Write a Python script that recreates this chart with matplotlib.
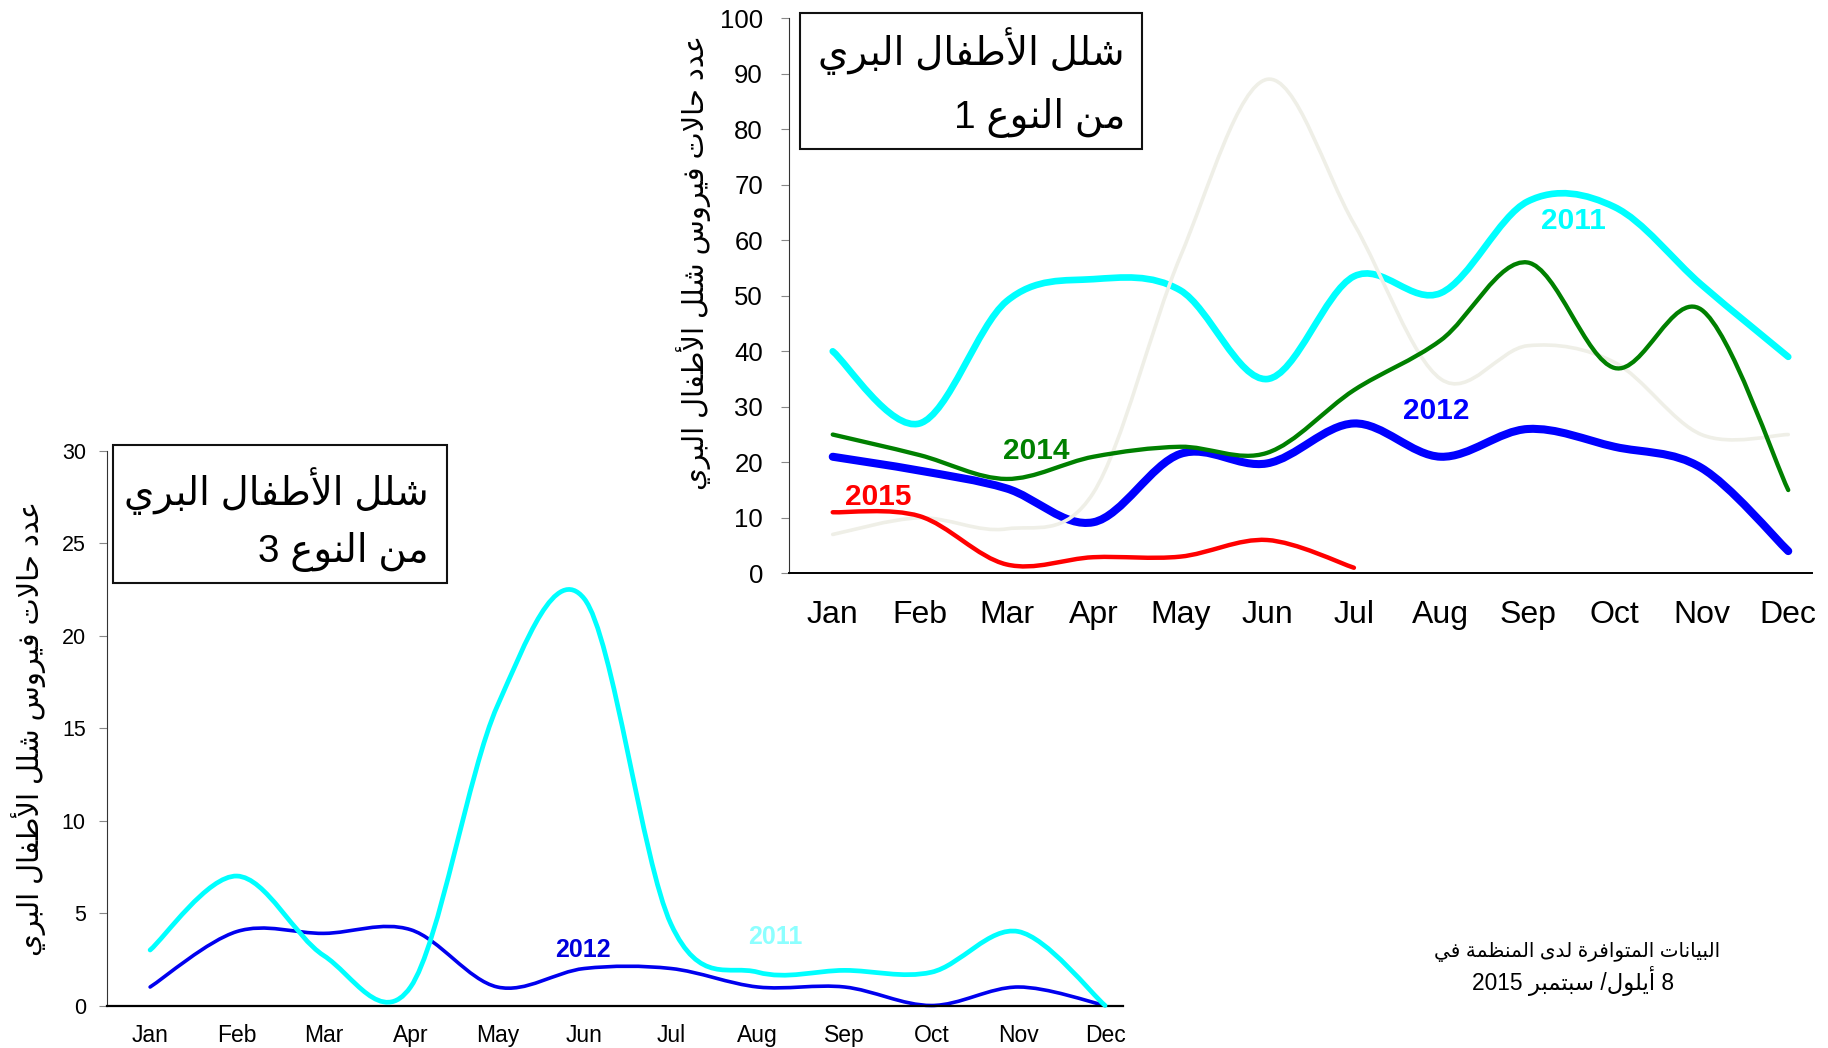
import re
import numpy as np
import matplotlib
matplotlib.use("Agg")
import matplotlib.pyplot as plt
from matplotlib.path import Path
from matplotlib.patches import PathPatch, Rectangle

W, H = 1828, 1048

# ---------------- data ----------------
months = ['Jan', 'Feb', 'Mar', 'Apr', 'May', 'Jun', 'Jul', 'Aug', 'Sep', 'Oct', 'Nov', 'Dec']

# Wild poliovirus type 1
t1_2010 = [7, 10, 8, 14.5, 57, 89, 63, 35, 41, 38, 25, 25]
t1_2011 = [40, 27, 49, 53, 51, 35, 53.5, 50.5, 67, 66, 52, 39]
t1_2012 = [21, 18.5, 15.3, 9.2, 21.5, 19.8, 27, 21, 26, 22.8, 19, 4]
t1_2014 = [25, 21.3, 17, 21, 22.8, 21.7, 33, 42, 56, 37, 47.5, 15]
t1_2015 = [11, 10.3, 1.6, 2.9, 3, 6, 1]

# Wild poliovirus type 3
t3_2011 = [3, 7, 2.7, 1, 16.2, 22, 4.4, 1.8, 1.9, 1.8, 4, 0]
t3_2012 = [1, 4, 3.9, 4.1, 1, 2, 2, 1, 1, 0, 1, 0]

title1_l1 = 'شلل الأطفال البري'
title1_l2 = 'من النوع 1'
title3_l2 = 'من النوع 3'
ylabel_txt = 'عدد حالات فيروس شلل الأطفال البري'
note_l1 = 'البيانات المتوافرة لدى المنظمة في'
note_l2 = '8 أيلول/ سبتمبر 2015'

# ---------------- Arabic shaping (presentation forms) ----------------
FORMS = {  # isolated, final, initial, medial
    'ا': ('\uFE8D', '\uFE8E', None, None),
    'أ': ('\uFE83', '\uFE84', None, None),
    'ب': ('\uFE8F', '\uFE90', '\uFE91', '\uFE92'),
    'ة': ('\uFE93', '\uFE94', None, None),
    'ت': ('\uFE95', '\uFE96', '\uFE97', '\uFE98'),
    'ح': ('\uFEA1', '\uFEA2', '\uFEA3', '\uFEA4'),
    'د': ('\uFEA9', '\uFEAA', None, None),
    'ر': ('\uFEAD', '\uFEAE', None, None),
    'س': ('\uFEB1', '\uFEB2', '\uFEB3', '\uFEB4'),
    'ش': ('\uFEB5', '\uFEB6', '\uFEB7', '\uFEB8'),
    'ط': ('\uFEC1', '\uFEC2', '\uFEC3', '\uFEC4'),
    'ظ': ('\uFEC5', '\uFEC6', '\uFEC7', '\uFEC8'),
    'ع': ('\uFEC9', '\uFECA', '\uFECB', '\uFECC'),
    'ف': ('\uFED1', '\uFED2', '\uFED3', '\uFED4'),
    'ل': ('\uFEDD', '\uFEDE', '\uFEDF', '\uFEE0'),
    'م': ('\uFEE1', '\uFEE2', '\uFEE3', '\uFEE4'),
    'ن': ('\uFEE5', '\uFEE6', '\uFEE7', '\uFEE8'),
    'و': ('\uFEED', '\uFEEE', None, None),
    'ى': ('\uFEEF', '\uFEF0', None, None),
    'ي': ('\uFEF1', '\uFEF2', '\uFEF3', '\uFEF4'),
}
LAM_ALEF = {'ا': ('\uFEFB', '\uFEFC'), 'أ': ('\uFEF7', '\uFEF8')}


def shape_word(word):
    units, i = [], 0
    while i < len(word):
        c = word[i]
        if c == 'ل' and i + 1 < len(word) and word[i + 1] in LAM_ALEF:
            units.append(('LA', word[i + 1]))
            i += 2
        else:
            units.append(('C', c))
            i += 1

    def dual(u):
        return u[0] == 'C' and u[1] in FORMS and FORMS[u[1]][2] is not None

    def arab(u):
        return u[0] == 'LA' or u[1] in FORMS

    out = []
    for k, u in enumerate(units):
        pj = k > 0 and dual(units[k - 1]) and arab(u)
        if u[0] == 'LA':
            iso, fin = LAM_ALEF[u[1]]
            out.append(fin if pj else iso)
            continue
        c = u[1]
        if c not in FORMS:
            out.append(c)
            continue
        iso, fin, ini, med = FORMS[c]
        nj = ini is not None and k + 1 < len(units) and arab(units[k + 1])
        if pj and nj:
            out.append(med)
        elif pj:
            out.append(fin)
        elif nj:
            out.append(ini)
        else:
            out.append(iso)
    return ''.join(out)


TOK = re.compile(r'[\u0600-\u06FF]+|[0-9]+|\s+|[^\s\u0600-\u06FF0-9]')


def vis(tok):
    if re.match(r'[\u0600-\u06FF]', tok):
        return shape_word(tok)[::-1]
    return tok


def rtl(s):
    return ''.join(vis(t) for t in reversed(TOK.findall(s)))


# ---------------- helpers ----------------
def smooth_path(xs, ys):
    xs = np.asarray(xs, float)
    ys = np.asarray(ys, float)
    n = len(xs)
    verts = [(xs[0], ys[0])]
    codes = [Path.MOVETO]
    for i in range(n - 1):
        p0 = np.array([xs[max(i - 1, 0)], ys[max(i - 1, 0)]])
        p1 = np.array([xs[i], ys[i]])
        p2 = np.array([xs[i + 1], ys[i + 1]])
        p3 = np.array([xs[min(i + 2, n - 1)], ys[min(i + 2, n - 1)]])
        c1 = p1 + (p2 - p0) / 6.0
        c2 = p2 - (p3 - p1) / 6.0
        verts += [tuple(c1), tuple(c2), tuple(p2)]
        codes += [Path.CURVE4] * 3
    return Path(verts, codes)


def draw_series(ax, vals, color, lw, z):
    x = np.arange(len(vals))
    patch = PathPatch(smooth_path(x, vals), fill=False, edgecolor=color, lw=lw,
                      capstyle='round', joinstyle='round', zorder=z, clip_on=False)
    ax.add_patch(patch)


def fx(px):
    return px / W


def fy(py):
    return 1 - py / H


AR_FAMILY = ['Liberation Sans', 'DejaVu Sans']
plt.rcParams['font.family'] = ['Liberation Sans', 'DejaVu Sans']

fig = plt.figure(figsize=(W / 100, H / 100), dpi=100)
renderer = fig.canvas.get_renderer()


def fit(t, target, dim='w', boost=1.0):
    bb = t.get_window_extent(renderer)
    cur = bb.width if dim == 'w' else bb.height
    t.set_fontsize(t.get_fontsize() * target / cur * boost)
    return t.get_fontsize()


def style_axes(ax, ymax, ystep, xmax, ytick_fs, xtick_fs, ypad, xpad, bottom_lw):
    for s in ('top', 'right'):
        ax.spines[s].set_visible(False)
    ax.spines['left'].set_linewidth(0.8)
    ax.spines['left'].set_color('#333333')
    ax.spines['bottom'].set_linewidth(bottom_lw)
    ax.spines['bottom'].set_color('black')
    ax.set_xlim(-0.5, xmax)
    ax.set_ylim(0, ymax)
    ax.set_xticks(range(12))
    ax.set_xticklabels(months, fontsize=xtick_fs)
    ax.set_yticks(np.arange(0, ymax + 0.1, ystep))
    ax.set_yticklabels([str(int(v)) for v in np.arange(0, ymax + 0.1, ystep)], fontsize=ytick_fs)
    ax.tick_params(axis='x', length=0, pad=xpad)
    ax.tick_params(axis='y', direction='out', length=6, width=0.8, color='#888888', pad=ypad)
    ax.patch.set_alpha(0)


# ---------------- top chart: type 1 ----------------
ax1 = fig.add_axes([fx(789.3), fy(573.3), (1811.7 - 789.3) / W, (573.3 - 18.3) / H])
style_axes(ax1, 100, 10, 11.27, 18.5, 23, 13, 19.5, 1.4)
draw_series(ax1, t1_2011, '#00FFFF', 4.8, 2)
draw_series(ax1, t1_2012, '#0000FF', 5.8, 3)
draw_series(ax1, t1_2010, '#EFEFE7', 2.6, 4)
draw_series(ax1, t1_2014, '#008000', 3.1, 5)
draw_series(ax1, t1_2015, '#FF0000', 3.2, 6)

lab_kw = dict(ha='center', va='center', fontweight='bold', family='Liberation Sans')
ax1.text(8.53, 63.4, '2011', color='#00FFFF', fontsize=21.5, zorder=10, **lab_kw)
ax1.text(6.95, 29.3, '2012', color='#0000FF', fontsize=21.5, zorder=10, **lab_kw)
ax1.text(2.34, 22.0, '2014', color='#008000', fontsize=21.5, zorder=10, **lab_kw)
ax1.text(0.52, 13.8, '2015', color='#FF0000', fontsize=21.5, zorder=10, **lab_kw)

# ---------------- bottom chart: type 3 ----------------
ax2 = fig.add_axes([fx(106.7), fy(1005.5), (1123.3 - 106.7) / W, (1005.5 - 450.7) / H])
style_axes(ax2, 30, 5, 11.21, 15.5, 16.5, 9, 13, 1.6)
draw_series(ax2, t3_2012, '#0000EE', 2.6, 2)
draw_series(ax2, t3_2011, '#00FFFF', 3.4, 3)
ax2.text(4.99, 3.0, '2012', color='#0000DD', fontsize=18, zorder=10, **lab_kw)
ax2.text(7.20, 3.69, '2011', color='#8CFFFF', fontsize=18, zorder=10, **lab_kw)


# ---------------- title boxes ----------------
def title_box(x0, y0, x1, y1, right, base1, base2, l1, l2, width1):
    fig.patches.append(Rectangle((fx(x0), fy(y1)), (x1 - x0) / W, (y1 - y0) / H,
                                 transform=fig.transFigure, facecolor='white',
                                 edgecolor='#111111', lw=1.5, zorder=20))
    t1 = fig.text(fx(right), fy(base1), rtl(l1), ha='right', va='baseline',
                  fontsize=24, family=AR_FAMILY, zorder=21)
    fs = fit(t1, width1, boost=1.08)
    fig.text(fx(right), fy(base2), rtl(l2), ha='right', va='baseline',
             fontsize=fs, family=AR_FAMILY, zorder=21)


title_box(800, 13.3, 1142.3, 149, 1125, 65, 128, title1_l1, title1_l2, 285)
title_box(113.3, 445, 446.7, 583.3, 429, 505, 561.7, title1_l1, title3_l2, 283)

# ---------------- y labels ----------------
yl1 = fig.text(fx(694), fy(262), rtl(ylabel_txt), rotation=90, ha='center', va='center',
               fontsize=20, family=AR_FAMILY)
fit(yl1, 455, 'h')
yl2 = fig.text(fx(29), fy(729), rtl(ylabel_txt), rotation=90, ha='center', va='center',
               fontsize=20, family=AR_FAMILY)
fit(yl2, 455, 'h')

# ---------------- footnote ----------------
n1 = fig.text(fx(1577), fy(956.7), rtl(note_l1), ha='center', va='baseline',
              fontsize=16, family=AR_FAMILY)
fit(n1, 285)
n2 = fig.text(fx(1573), fy(990), rtl(note_l2), ha='center', va='baseline',
              fontsize=16, family=AR_FAMILY)
fit(n2, 203)

fig.savefig('out.png', dpi=100)
